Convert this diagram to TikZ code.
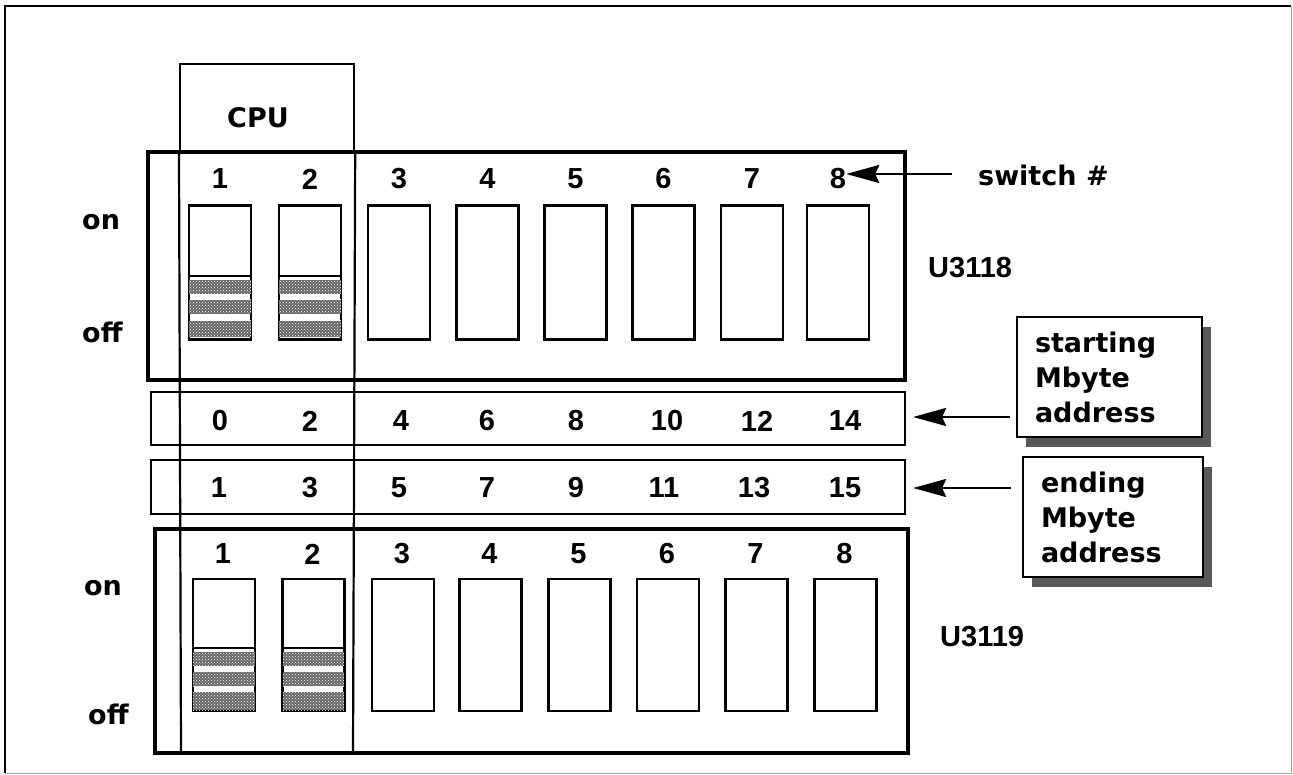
\documentclass[tikz,border=0pt]{standalone}
\usepackage{fontspec}
\setmainfont{Liberation Sans}
\newfontfamily\wordfont{DejaVu Sans}
\usetikzlibrary{arrows.meta,patterns,shadows}
\begin{document}
\begin{tikzpicture}[x=1pt,y=-1pt,
  lbl/.style={font=\fontsize{29}{35}\selectfont\bfseries, inner sep=0pt},
  wlbl/.style={font=\wordfont\fontsize{27}{35}\selectfont\bfseries, inner sep=0pt},
  bigbox/.style={draw, line width=4pt},
  strip/.style={draw, line width=2.2pt},
  sw/.style={draw, line width=2.8pt, minimum width=62pt, minimum height=134pt, inner sep=0pt},
  band/.style={fill=black!60},
  dots/.style={pattern=crosshatch dots, pattern color=white},
  callout/.style={draw, line width=2.8pt, fill=white, align=left, inner xsep=18pt, inner ysep=0pt,
     font=\wordfont\fontsize{27}{35}\selectfont\bfseries,
     drop shadow={shadow xshift=9pt, shadow yshift=-10pt, fill=black!65, opacity=1}},
  arr/.style={line width=2.2pt, -{Stealth[length=33pt,width=18pt,inset=4pt]}}
]
\useasboundingbox (0,0) rectangle (1293,775);
% outer frame
\draw[line width=2.2pt] (5,773) -- (5,6) -- (1291,6);
\draw[line width=0.8pt, black!35] (5,773) -- (1291,773) -- (1291,6);

% main boxes
\node[bigbox, minimum width=757pt, minimum height=228pt, inner sep=0pt] (u3118box) at (526.5,266) {};
\node[strip, minimum width=754pt, minimum height=53pt, inner sep=0pt] (start) at (528,418.5) {};
\node[strip, minimum width=754pt, minimum height=54pt, inner sep=0pt] (end) at (528,487) {};
\node[bigbox, minimum width=753pt, minimum height=224pt, inner sep=0pt] (u3119box) at (531.5,641) {};

% CPU box and its vertical lines
\node[draw, line width=2.2pt, minimum width=174pt, minimum height=89pt, inner sep=0pt, anchor=north west] (cpu) at (179,63) {};
\node[wlbl] (cpulbl) at (258,118) {CPU};
\draw[line width=2.2pt] (cpu.south west) -- (181,753);
\draw[line width=2.2pt] (cpu.south east) -- (353,753);

% upper switches
\foreach \i/\x in {1/220,2/310,3/399,4/487.5,5/575.5,6/663.5,7/752,8/838}{
  \node[sw] (us\i) at (\x,272.5) {};
  \node[lbl] (un\i) at (\x,179) {\i};
}
% lower switches
\foreach \i/\x in {1/224,2/313.5,3/403,4/490.5,5/579.5,6/668,7/756.5,8/845.5}{
  \node[sw, minimum height=132pt] (ls\i) at (\x,645) {};
  \node[lbl] (ln\i) at (\x-1,554) {\i};
}
% hatched lower parts of switches 1 and 2
\foreach \n in {us1,us2}{
  \draw[line width=2.2pt] (\n.west |- 0,276) -- (\n.east |- 0,276);
  \foreach \a/\b in {280/294,300/314,321/337}{
    \fill[band] ([xshift=1.5pt]\n.west |- 0,\a) rectangle ([xshift=-1.5pt]\n.east |- 0,\b);
    \fill[dots] ([xshift=1.5pt]\n.west |- 0,\a) rectangle ([xshift=-1.5pt]\n.east |- 0,\b);
  }
}
\foreach \n in {ls1,ls2}{
  \draw[line width=2.2pt] (\n.west |- 0,648) -- (\n.east |- 0,648);
  \foreach \a/\b in {652/666,672/686,692/710}{
    \fill[band] ([xshift=1.5pt]\n.west |- 0,\a) rectangle ([xshift=-1.5pt]\n.east |- 0,\b);
    \fill[dots] ([xshift=1.5pt]\n.west |- 0,\a) rectangle ([xshift=-1.5pt]\n.east |- 0,\b);
  }
}

% address numbers
\foreach \v/\x [count=\k] in {0/220,2/310,4/401,6/487,8/576,10/667,12/757,14/845}{
  \node[lbl] (s\k) at (\x,421) {\v};
}
\foreach \v/\x [count=\k] in {1/219,3/310,5/399,7/487,9/576,11/664,13/754,15/845}{
  \node[lbl] (e\k) at (\x,488) {\v};
}

% side labels
\node[wlbl, anchor=west] (on1) at (82,222) {on};
\node[wlbl, anchor=west] (off1) at (82,332) {off};
\node[wlbl, anchor=west] (on2) at (84,588) {on};
\node[wlbl, anchor=west] (off2) at (88,714) {off};
\node[lbl, anchor=west] (u3118) at (928,268) {U3118};
\node[lbl, anchor=west] (u3119) at (940,637) {U3119};
\node[wlbl, anchor=west] (swnum) at (978,175) {switch \#};

% callouts
\node[callout, minimum width=185pt, minimum height=120pt, text width=149pt] (c1) at (1109.5,377) {starting\\Mbyte\\address};
\node[callout, minimum width=180pt, minimum height=120pt, text width=144pt] (c2) at (1113,517) {ending\\Mbyte\\address};

% arrows
\coordinate (a0s) at (952,174);
\coordinate (a1s) at (1010,417);
\coordinate (a2s) at (1011,488);
\draw[arr] (a0s) -- (un8.east |- a0s);
\draw[arr] (a1s) -- ([xshift=7pt]start.east |- a1s);
\draw[arr] (a2s) -- ([xshift=7pt]end.east |- a2s);
\end{tikzpicture}
\end{document}
